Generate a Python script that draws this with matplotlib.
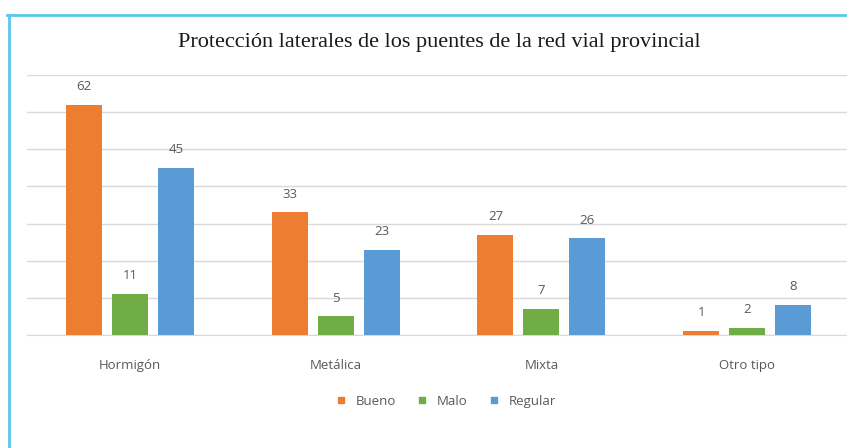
import numpy as np
import matplotlib.pyplot as plt
from matplotlib.lines import Line2D

# Data
categories = ['Hormigón', 'Metálica', 'Mixta', 'Otro tipo']
series_names = ['Bueno', 'Malo', 'Regular']
bueno = [62, 33, 27, 1]
malo = [11, 5, 7, 2]
regular = [45, 23, 26, 8]
colors = ['#ED7D31', '#70AD47', '#5B9BD5']

plt.rcParams['font.family'] = ['Open Sans', 'DejaVu Sans']

fig = plt.figure(figsize=(8.47, 4.48), dpi=100)
W, H = 847, 448
# axes placed in pixel terms: x 27..850, y 75..335
ax = fig.add_axes([27 / W, 1 - 335 / H, 823 / W, 260 / H])

x = np.arange(len(categories))
width = 0.175
step = 0.223
for i, (vals, name, c) in enumerate(zip([bueno, malo, regular], series_names, colors)):
    pos = x + (i - 1) * step
    ax.bar(pos, vals, width, color=c, label=name, zorder=3)
    for xp, v in zip(pos, vals):
        ax.text(xp, v + 3.2, str(v), ha='center', va='bottom',
                fontsize=9.5, color='#595959')

ax.set_xlim(-0.5, 3.5)
ax.set_ylim(0, 70)
ax.set_yticks(np.arange(0, 71, 10))
ax.yaxis.grid(True, color='#D9D9D9', linewidth=1)
ax.set_axisbelow(True)
ax.tick_params(axis='y', left=False, labelleft=False)
ax.tick_params(axis='x', bottom=False, pad=14, labelsize=9.5, labelcolor='#595959')
ax.set_xticks(x)
ax.set_xticklabels(categories)
for s in ['top', 'right', 'left']:
    ax.spines[s].set_visible(False)
ax.spines['bottom'].set_color('#D9D9D9')

fig.text(439 / W, 1 - 42 / H, 'Protección laterales de los puentes de la red vial provincial',
         ha='center', va='center', fontsize=16, family='Liberation Serif', color='#1a1a1a')

handles = [Line2D([], [], marker='s', linestyle='', color=c, markersize=5) for c in colors]
fig.legend(handles, series_names, loc='center', bbox_to_anchor=(442 / W, 1 - 401 / H),
           ncol=3, frameon=False, fontsize=9.5, handletextpad=0.1, columnspacing=1.0,
           labelcolor='#595959')

# light blue frame (top and left edges)
fig.add_artist(Line2D([7 / W, 1], [1 - 15 / H, 1 - 15 / H], color='#5BC8EE', linewidth=2))
fig.add_artist(Line2D([9 / W, 9 / W], [1 - 15 / H, 0], color='#5BC8EE', linewidth=2))

fig.savefig('out.png', dpi=100)
